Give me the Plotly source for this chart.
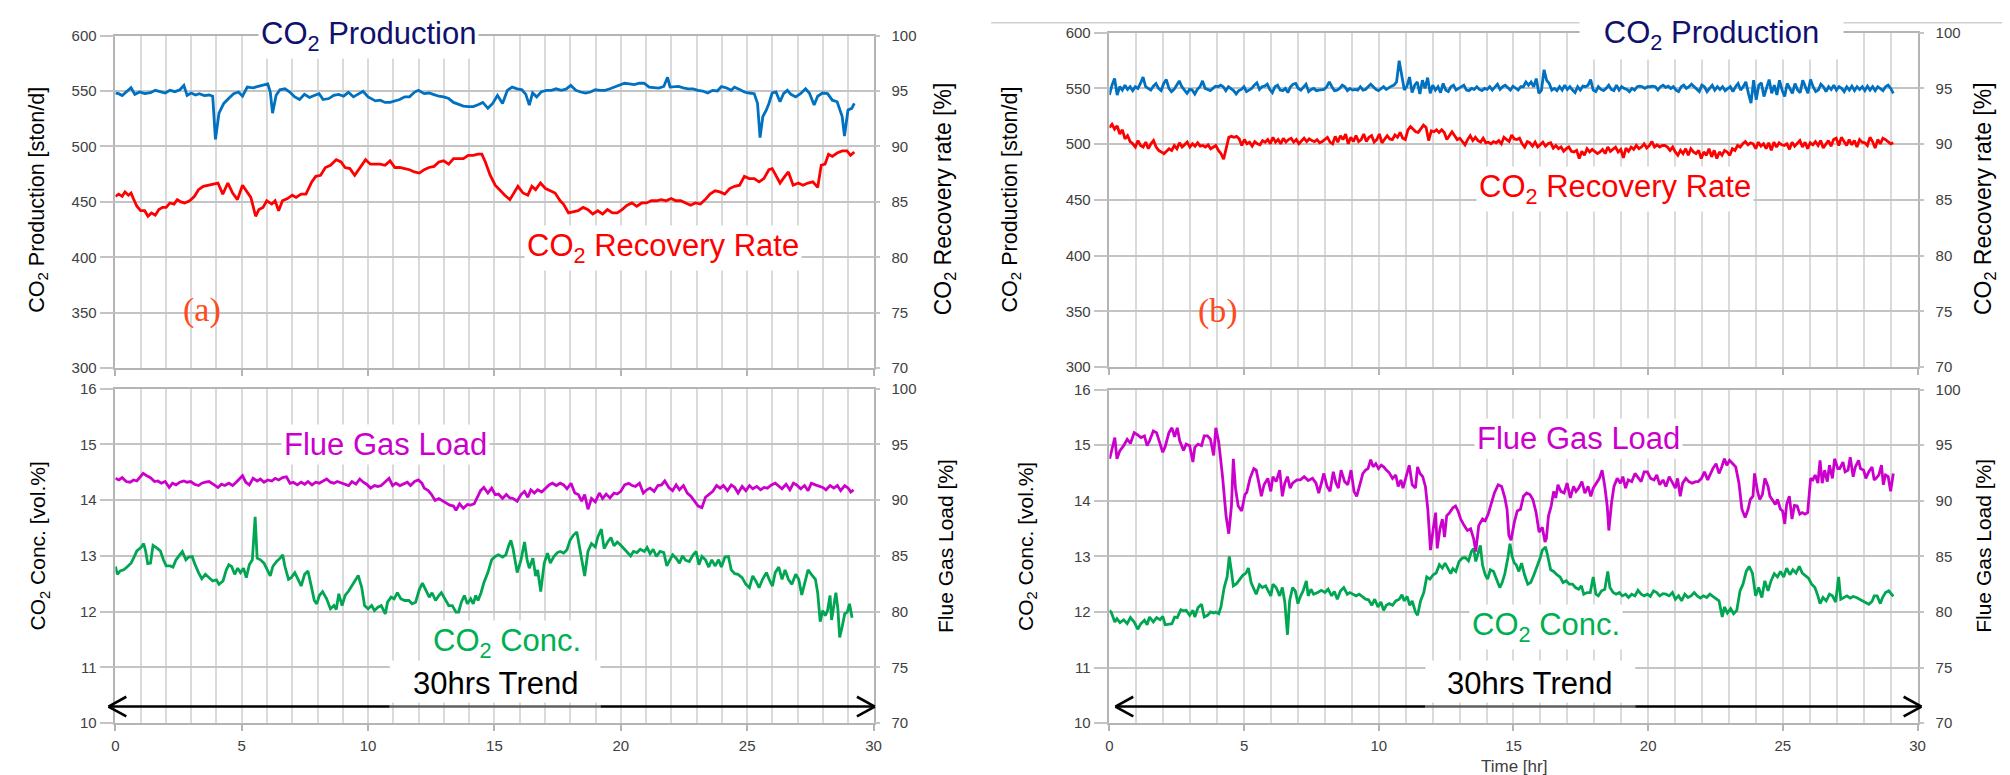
import plotly.graph_objects as go

W, H = 2010, 775

# ============================ DATA ============================
# ---- (a) top: CO2 production [ston/d] (left axis) ----
t_prod_a = [0.0,0.13,0.27,0.42,0.62,0.77,0.96,1.16,1.39,1.58,1.78,1.97,2.16,2.36,2.55,2.71,2.84,3.0,3.17,3.32,3.52,3.71,3.85,3.96,4.1,4.29,4.48,4.68,4.87,5.03,5.22,5.45,5.65,5.84,6.03,6.13,6.22,6.36,6.51,6.71,6.9,7.1,7.29,7.48,7.68,7.87,8.06,8.22,8.45,8.64,8.84,9.03,9.22,9.42,9.61,9.8,10.0,10.29,10.48,10.67,10.87,11.06,11.25,11.45,11.64,11.83,11.99,12.22,12.41,12.61,12.8,12.99,13.19,13.38,13.58,13.77,13.96,14.16,14.35,14.54,14.74,14.93,15.12,15.32,15.51,15.7,15.9,16.09,16.24,16.38,16.51,16.67,16.86,17.06,17.25,17.44,17.64,17.83,18.02,18.22,18.41,18.6,18.8,18.99,19.18,19.38,19.57,19.76,19.96,20.15,20.34,20.54,20.73,20.92,21.12,21.31,21.5,21.7,21.85,21.95,22.08,22.28,22.47,22.66,22.86,23.05,23.24,23.44,23.63,23.82,23.98,24.17,24.37,24.5,24.7,24.89,25.08,25.28,25.41,25.51,25.62,25.76,25.86,25.99,26.14,26.3,26.44,26.59,26.73,26.92,27.11,27.31,27.46,27.65,27.79,27.98,28.18,28.37,28.56,28.76,28.85,28.99,29.14,29.24]
prod_a = [548.2,547.6,545.9,548.8,552.9,547.0,549.1,547.6,548.5,550.6,549.1,548.2,550.6,549.4,551.1,555.0,546.1,548.2,546.4,547.6,545.9,546.4,545.3,506.4,530.0,538.8,543.2,547.6,549.1,545.3,553.5,552.9,554.1,555.0,556.4,549.1,530.0,546.1,551.1,552.0,549.1,544.7,542.3,547.0,544.1,545.9,547.6,542.3,543.2,546.1,547.0,545.3,548.8,544.7,547.6,549.7,544.7,541.1,541.7,539.7,539.7,540.9,542.3,544.7,544.7,548.8,550.6,547.6,548.2,546.7,545.3,544.7,543.2,539.7,537.9,536.4,535.9,535.9,537.6,539.7,534.4,538.8,546.1,538.8,550.6,553.5,552.0,551.1,547.0,537.3,548.2,544.7,549.4,550.6,550.6,552.0,550.6,551.7,555.0,550.6,549.1,548.2,549.1,551.1,550.6,550.6,552.0,553.5,555.0,557.0,556.4,555.8,557.0,557.0,553.5,552.9,552.6,554.1,562.3,553.5,553.5,554.1,552.9,552.0,552.0,550.6,550.0,548.2,550.6,550.0,554.1,552.9,550.6,553.5,551.4,549.1,548.2,547.6,538.8,507.9,527.0,532.9,538.8,548.2,549.1,540.3,547.6,550.6,547.0,544.7,547.6,552.0,548.2,537.3,545.3,548.2,547.6,541.7,540.3,527.0,509.4,532.9,534.4,538.8]

# ---- (a) top: CO2 recovery rate [%] (right axis) ----
t_rec_a = [0.0,0.13,0.27,0.38,0.52,0.62,0.71,0.85,1.0,1.16,1.29,1.43,1.58,1.72,1.87,2.01,2.16,2.32,2.45,2.59,2.74,2.94,3.13,3.29,3.48,3.67,3.9,4.06,4.25,4.45,4.64,4.83,5.03,5.22,5.36,5.55,5.68,5.84,5.99,6.19,6.32,6.46,6.61,6.81,7.0,7.15,7.35,7.54,7.77,7.93,8.12,8.31,8.51,8.74,8.93,9.09,9.28,9.47,9.67,9.9,10.09,10.29,10.48,10.67,10.87,11.06,11.25,11.45,11.64,11.83,12.03,12.22,12.41,12.61,12.8,12.99,13.19,13.38,13.58,13.77,13.96,14.16,14.35,14.5,14.64,14.83,15.03,15.22,15.41,15.61,15.76,15.93,16.13,16.32,16.48,16.63,16.82,17.02,17.21,17.4,17.6,17.73,17.93,18.12,18.31,18.51,18.7,18.89,19.09,19.28,19.47,19.67,19.86,20.05,20.25,20.44,20.63,20.83,21.02,21.21,21.41,21.6,21.79,21.99,22.18,22.37,22.57,22.76,22.95,23.15,23.34,23.53,23.73,23.92,24.11,24.31,24.5,24.7,24.89,25.08,25.28,25.47,25.66,25.86,25.99,26.14,26.3,26.49,26.63,26.82,27.02,27.21,27.4,27.6,27.79,27.93,28.08,28.22,28.37,28.56,28.76,28.95,29.09,29.24]
rec_a = [85.5,85.7,85.5,85.9,85.6,85.8,85.3,84.6,84.2,84.2,83.7,84.0,83.8,84.3,84.5,84.5,84.9,84.8,85.2,85.0,84.9,85.1,85.5,86.1,86.4,86.5,86.6,86.7,85.7,86.7,85.8,85.2,86.5,85.8,85.4,83.7,84.3,84.5,85.1,84.8,85.1,84.2,85.1,85.3,85.6,85.4,85.7,85.7,86.8,87.3,87.4,88.1,88.3,88.8,88.6,88.1,88.0,87.4,88.0,88.8,88.4,88.4,88.4,88.3,88.7,88.1,88.1,88.0,87.9,87.7,87.6,87.9,88.1,88.2,88.6,88.7,88.4,88.9,88.9,88.9,89.2,89.2,89.3,89.3,88.6,87.4,86.5,86.0,85.6,85.2,85.8,86.4,85.8,85.6,86.4,86.1,86.7,86.2,86.0,85.8,85.1,84.8,84.0,84.1,84.2,84.5,84.3,83.9,84.2,83.9,84.3,84.0,84.0,84.3,84.7,84.9,84.6,84.9,84.9,85.1,85.1,85.2,85.1,85.3,85.1,85.1,84.9,84.7,84.9,84.8,85.2,85.7,86.0,85.9,85.7,86.2,86.4,86.5,87.3,87.1,87.1,86.8,87.1,87.9,88.0,87.4,86.7,87.3,87.7,86.5,86.7,86.5,86.7,86.8,86.3,88.3,88.4,89.3,89.1,89.4,89.6,89.6,89.2,89.5]

# ---- (a) bottom: flue gas load [%] (right axis) ----
t_flue_a = [0,0.14,0.27,0.43,0.58,0.72,0.85,1.01,1.1,1.24,1.39,1.55,1.68,1.82,1.97,2.13,2.26,2.4,2.55,2.71,2.84,2.98,3.13,3.29,3.42,3.56,3.71,3.91,4.06,4.2,4.33,4.49,4.64,4.78,4.91,5.03,5.16,5.3,5.45,5.61,5.74,5.88,6.03,6.19,6.32,6.46,6.62,6.77,6.91,7.04,7.2,7.35,7.49,7.62,7.78,7.93,8.07,8.2,8.36,8.51,8.65,8.78,8.94,9.09,9.23,9.36,9.52,9.67,9.81,9.94,10.1,10.25,10.39,10.52,10.68,10.83,10.97,11.1,11.26,11.41,11.55,11.68,11.84,11.99,12.13,12.22,12.38,12.51,12.65,12.8,12.96,13.09,13.23,13.38,13.48,13.62,13.77,13.93,14.06,14.2,14.31,14.45,14.58,14.74,14.89,15.03,15.16,15.32,15.47,15.61,15.74,15.9,16.05,16.19,16.32,16.44,16.58,16.71,16.87,17.02,17.16,17.29,17.45,17.6,17.74,17.87,18.03,18.18,18.32,18.45,18.57,18.7,18.84,18.99,19.15,19.28,19.42,19.57,19.73,19.86,20.0,20.15,20.31,20.45,20.58,20.74,20.89,21.03,21.16,21.32,21.47,21.61,21.74,21.9,22.05,22.19,22.32,22.48,22.63,22.77,22.9,23.06,23.21,23.35,23.48,23.64,23.79,23.93,24.06,24.22,24.37,24.51,24.64,24.8,24.95,25.09,25.22,25.38,25.53,25.67,25.8,25.96,26.11,26.25,26.38,26.54,26.69,26.83,26.96,27.12,27.27,27.41,27.54,27.7,27.85,27.99,28.12,28.28,28.43,28.57,28.7,28.86,29.0,29.1,29.21]
flue_a = [91.96,91.81,92.02,91.67,91.61,91.81,91.72,92.1,92.4,92.19,92.02,91.67,91.72,91.52,91.67,91.14,91.52,91.37,91.61,91.72,91.61,91.67,91.43,91.31,91.52,91.61,91.67,91.37,91.14,91.43,91.31,91.52,91.31,91.61,91.9,92.19,91.61,91.37,91.96,91.72,91.9,91.61,91.81,91.72,91.96,91.81,92.02,92.1,91.52,91.61,91.37,91.61,91.43,91.67,91.37,91.61,91.52,91.72,91.9,91.61,91.52,91.67,91.52,91.37,91.31,91.67,91.43,91.9,91.61,91.43,91.08,91.31,91.23,91.31,91.61,91.96,91.31,91.52,91.31,91.43,91.61,91.31,91.67,91.81,91.52,91.08,90.85,90.5,89.97,90.15,89.91,89.77,89.56,89.47,89.09,89.68,89.27,89.62,89.56,89.68,90.2,90.85,91.14,90.64,91.08,90.5,90.55,90.15,90.5,90.2,90.15,89.91,90.5,90.79,90.26,90.93,90.64,90.93,90.73,91.08,91.37,91.52,91.31,91.52,91.37,91.02,91.52,90.64,90.5,89.91,90.5,89.18,90.15,89.85,90.64,90.15,90.55,90.2,90.64,90.55,90.79,91.37,91.52,91.31,91.23,91.52,90.64,90.93,91.08,90.79,91.31,91.37,91.72,91.14,90.85,91.37,90.93,91.31,90.64,90.35,89.91,89.47,89.33,90.26,90.5,90.79,91.31,91.08,91.31,90.85,91.37,91.14,90.64,91.23,90.85,91.31,91.02,91.23,90.93,91.14,91.08,91.37,91.52,91.23,91.02,91.43,90.93,91.52,91.37,91.02,91.31,90.85,91.52,91.37,91.23,91.14,90.93,91.31,91.08,91.31,90.85,91.31,91.08,90.73,90.93]

# ---- (a) bottom: CO2 concentration [vol.%] (left axis) ----
t_conc_a = [0,0.08,0.19,0.33,0.46,0.62,0.72,0.85,1.01,1.12,1.2,1.28,1.39,1.49,1.62,1.78,1.9,2.01,2.17,2.28,2.4,2.51,2.65,2.79,2.9,3.04,3.13,3.29,3.42,3.56,3.71,3.85,4.0,4.1,4.26,4.39,4.49,4.6,4.72,4.84,4.95,5.07,5.18,5.3,5.42,5.53,5.61,5.74,5.88,6.0,6.13,6.23,6.38,6.52,6.62,6.71,6.85,6.96,7.1,7.23,7.35,7.49,7.62,7.78,7.87,7.97,8.07,8.2,8.36,8.51,8.65,8.74,8.84,8.97,9.09,9.23,9.36,9.52,9.61,9.75,9.86,10.0,10.14,10.25,10.39,10.52,10.68,10.77,10.91,11.03,11.16,11.3,11.45,11.61,11.74,11.88,12.03,12.15,12.26,12.42,12.53,12.67,12.8,12.9,13.04,13.19,13.33,13.48,13.58,13.69,13.81,13.93,14.06,14.16,14.26,14.35,14.47,14.58,14.74,14.89,15.03,15.16,15.32,15.45,15.57,15.65,15.74,15.9,16.05,16.19,16.29,16.38,16.52,16.63,16.71,16.83,16.97,17.1,17.21,17.35,17.49,17.6,17.74,17.87,17.99,18.12,18.26,18.38,18.45,18.57,18.7,18.84,18.99,19.09,19.23,19.34,19.48,19.61,19.73,19.86,20.0,20.15,20.27,20.39,20.5,20.64,20.77,20.93,21.04,21.16,21.28,21.41,21.55,21.7,21.82,21.93,22.05,22.19,22.32,22.44,22.57,22.71,22.86,22.98,23.09,23.21,23.35,23.48,23.6,23.73,23.87,23.98,24.12,24.26,24.37,24.51,24.64,24.8,24.95,25.09,25.22,25.34,25.47,25.61,25.76,25.88,26.0,26.11,26.25,26.38,26.5,26.63,26.77,26.92,27.04,27.16,27.27,27.41,27.54,27.7,27.79,27.89,27.99,28.09,28.18,28.28,28.34,28.43,28.51,28.59,28.66,28.76,28.86,28.96,29.05,29.15]
conc_a = [12.81,12.67,12.73,12.75,12.80,12.87,12.96,13.09,13.15,13.22,13.08,12.86,12.87,13.19,13.15,13.09,12.93,12.82,12.82,12.80,12.93,12.99,13.08,12.93,12.98,12.99,12.87,12.70,12.59,12.67,12.61,12.55,12.57,12.49,12.55,12.75,12.84,12.81,12.67,12.78,12.70,12.78,12.61,12.84,12.93,13.70,12.96,12.93,12.87,12.75,12.64,12.81,12.90,12.96,13.02,12.81,12.58,12.61,12.70,12.58,12.46,12.67,12.73,12.40,12.20,12.14,12.29,12.36,12.23,12.05,12.11,12.04,12.32,12.11,12.29,12.37,12.46,12.58,12.65,12.43,12.11,12.05,12.11,12.02,12.08,12.11,11.96,12.17,12.26,12.23,12.34,12.23,12.20,12.20,12.14,12.17,12.40,12.51,12.40,12.26,12.34,12.20,12.29,12.34,12.23,12.11,12.11,11.99,11.99,12.17,12.29,12.14,12.23,12.14,12.29,12.20,12.34,12.52,12.70,12.93,12.99,13.02,12.98,13.02,13.19,13.28,13.12,12.70,12.93,13.25,12.93,12.78,12.96,12.64,12.75,12.36,12.87,13.05,12.87,12.99,13.06,13.08,13.05,13.11,13.28,13.37,13.43,13.15,12.93,12.64,13.08,13.22,13.16,13.34,13.48,13.13,13.25,13.33,13.18,13.25,13.19,13.11,13.06,13.0,13.08,13.06,13.12,13.08,13.15,13.04,13.12,12.99,13.08,13.06,12.82,12.93,13.02,12.96,12.87,13.0,12.92,12.90,13.02,13.08,12.84,12.99,12.93,12.80,12.93,12.82,12.93,12.80,12.98,12.99,12.75,12.68,12.67,12.61,12.49,12.43,12.64,12.55,12.43,12.58,12.70,12.57,12.46,12.70,12.80,12.58,12.75,12.58,12.49,12.67,12.58,12.30,12.52,12.75,12.67,12.58,12.34,11.82,12.02,11.93,12.02,12.29,11.85,12.11,12.34,12.05,11.54,11.73,11.96,11.99,12.14,11.89]

# ---- (b) top: CO2 production [ston/d], regular samples from 0 to 29.1 h ----
prod_b_end = 29.1
prod_b = [544.1,552.9,558.8,544.1,551.5,548.5,552.9,549.1,551.5,548.0,551.5,550.0,554.4,560.2,551.5,550.0,548.5,552.0,554.4,550.0,548.0,554.4,557.9,550.0,547.1,549.1,552.9,556.7,551.5,548.0,545.6,549.1,548.5,545.0,549.1,551.5,556.7,550.0,549.1,548.0,550.0,552.0,551.5,552.9,551.5,548.0,551.5,550.0,548.0,545.0,548.0,549.1,551.5,547.1,548.5,550.0,552.9,555.0,549.1,551.5,552.0,553.8,549.1,546.2,551.5,552.9,548.5,548.0,550.0,546.2,551.5,553.8,554.4,550.0,548.5,551.5,553.8,547.1,549.1,550.0,548.0,548.5,549.1,549.1,551.5,555.8,551.5,548.0,548.5,550.0,552.9,551.5,548.0,550.0,548.5,549.1,548.5,551.5,548.5,549.1,551.5,553.8,551.5,549.1,548.0,550.0,551.5,549.1,550.9,552.0,552.9,555.8,574.9,560.2,548.5,552.0,560.2,546.2,552.9,555.8,545.0,557.3,550.0,559.6,545.6,552.9,548.5,551.5,546.2,554.4,548.5,547.1,551.5,552.9,548.5,550.0,551.5,552.9,548.5,548.0,550.0,549.1,551.5,549.1,548.0,550.0,549.1,551.5,548.5,551.5,553.8,549.1,551.5,552.9,550.9,548.5,552.0,550.0,548.5,551.5,551.5,555.8,552.9,555.8,551.5,558.8,545.6,548.5,566.7,557.3,554.4,548.5,550.0,548.0,551.5,548.5,552.9,549.1,551.5,548.5,546.2,551.5,548.5,552.0,551.5,552.9,557.9,548.5,547.1,551.5,549.1,548.0,550.0,552.9,549.1,548.0,552.9,548.5,551.5,550.0,549.1,547.1,550.0,548.5,551.5,552.0,551.5,550.0,551.5,551.5,552.0,551.5,548.5,551.5,552.9,550.9,552.0,550.0,551.5,548.5,547.1,551.5,552.9,550.0,551.5,553.8,551.5,549.1,547.1,552.9,551.5,547.1,550.0,552.9,548.5,551.5,549.1,551.5,548.0,550.0,551.5,547.1,551.5,554.4,548.5,551.5,555.8,545.6,536.8,557.3,539.8,552.9,555.0,542.7,551.5,557.9,545.6,552.9,544.1,557.3,548.5,542.7,554.4,550.0,545.6,554.4,548.5,546.2,557.3,551.5,545.6,557.9,551.5,547.1,548.5,553.8,551.5,547.1,551.5,549.1,552.9,548.5,551.5,550.0,547.1,551.5,548.5,552.0,548.0,551.5,549.1,551.5,548.0,552.0,548.5,551.5,548.0,551.5,550.0,548.0,551.5,552.9,550.0,545.6]

# ---- (b) top: CO2 recovery rate [%], regular samples from 0 to 29.1 h ----
rec_b_end = 29.1
rec_b = [91.49,91.78,91.34,91.64,90.91,91.29,90.47,90.76,90.23,90.03,89.74,90.32,89.88,89.74,90.18,89.59,90.03,90.32,89.74,89.44,89.3,89.15,89.36,89.59,89.44,89.88,89.59,90.12,89.74,89.94,90.18,89.74,90.03,89.82,90.12,89.82,89.88,89.74,89.94,89.59,89.74,89.88,89.44,89.15,88.65,89.74,90.61,90.7,90.61,90.7,90.47,89.88,90.41,90.03,90.18,89.82,90.23,90.03,89.94,90.32,90.18,90.41,90.03,90.61,90.18,90.41,90.03,90.53,90.18,90.41,90.53,90.18,90.41,90.03,90.32,90.53,90.23,90.47,90.32,90.23,90.41,90.12,90.23,90.41,90.61,90.18,90.03,90.7,90.18,90.76,90.41,90.91,90.03,90.61,90.23,90.76,90.23,90.41,90.91,90.23,90.61,90.76,90.18,90.41,90.91,90.12,90.41,90.76,90.47,90.41,90.82,90.61,91.05,90.53,90.41,91.29,91.58,91.34,91.11,91.05,91.4,91.7,91.49,90.32,91.2,91.11,91.29,91.05,91.29,91.05,90.41,90.82,91.11,90.76,90.41,90.53,90.23,89.94,90.41,90.76,90.32,90.61,90.32,90.18,90.53,90.12,90.18,90.03,90.23,90.12,90.32,90.03,90.61,90.41,90.23,90.82,90.47,90.41,90.53,90.03,89.74,90.23,90.12,89.82,90.18,89.74,89.94,90.18,89.82,90.03,90.12,89.65,89.88,89.59,89.74,89.36,89.59,89.74,89.36,89.3,89.44,88.71,89.36,89.0,89.59,89.3,89.53,89.3,89.15,89.3,89.53,89.15,89.74,89.36,89.59,89.74,89.3,89.53,88.77,89.65,89.36,89.74,89.53,89.88,89.59,89.74,90.03,89.65,89.88,90.23,89.74,89.94,89.74,89.88,89.88,89.74,89.44,89.74,89.3,89.0,89.44,89.15,89.59,89.0,89.59,89.3,89.15,89.44,88.71,89.3,89.0,89.59,88.86,89.44,88.71,89.3,89.0,89.44,89.3,89.0,89.59,89.44,89.88,89.74,90.03,90.23,89.94,90.12,90.03,89.59,90.18,89.82,90.03,89.59,90.12,89.44,90.18,89.74,90.12,89.94,89.88,90.03,89.53,90.18,89.82,90.03,90.32,89.74,90.18,89.59,90.12,89.94,90.23,89.88,90.32,89.65,90.03,90.32,89.82,90.41,90.53,89.88,90.61,90.23,89.88,90.41,89.94,90.32,89.74,90.41,90.18,90.12,89.88,90.61,90.23,89.65,90.41,90.03,90.53,90.41,90.18,90.03,90.12]

# ---- (b) bottom: flue gas load [%] (right axis) ----
t_flue_b = [0.01,0.08,0.2,0.28,0.39,0.53,0.66,0.78,0.92,1.05,1.17,1.3,1.4,1.49,1.63,1.75,1.88,1.98,2.07,2.21,2.32,2.42,2.52,2.61,2.75,2.85,2.98,3.1,3.17,3.29,3.42,3.52,3.64,3.75,3.87,3.95,4.06,4.2,4.33,4.43,4.53,4.6,4.68,4.78,4.91,5.03,5.1,5.22,5.36,5.45,5.55,5.64,5.74,5.88,5.99,6.07,6.19,6.32,6.42,6.51,6.61,6.71,6.8,6.96,7.09,7.23,7.38,7.54,7.67,7.77,7.87,7.96,8.08,8.19,8.31,8.41,8.5,8.6,8.73,8.85,8.97,9.08,9.18,9.27,9.41,9.51,9.6,9.7,9.79,9.89,9.99,10.09,10.18,10.28,10.39,10.51,10.63,10.72,10.82,10.9,11.01,11.13,11.24,11.36,11.44,11.53,11.63,11.73,11.82,11.92,12.02,12.11,12.17,12.27,12.36,12.44,12.52,12.63,12.75,12.85,12.94,13.04,13.17,13.29,13.41,13.52,13.6,13.71,13.85,13.95,14.06,14.18,14.29,14.43,14.56,14.68,14.76,14.83,14.91,15.03,15.14,15.26,15.37,15.49,15.61,15.72,15.84,15.95,16.07,16.17,16.22,16.3,16.4,16.49,16.57,16.65,16.76,16.88,16.99,17.11,17.23,17.32,17.42,17.54,17.65,17.77,17.87,17.96,18.08,18.19,18.29,18.39,18.48,18.54,18.64,18.73,18.85,18.97,19.06,19.16,19.26,19.39,19.51,19.64,19.74,19.85,19.97,20.09,20.22,20.32,20.43,20.55,20.66,20.78,20.9,21.01,21.09,21.19,21.28,21.4,21.51,21.63,21.77,21.86,21.98,22.09,22.21,22.29,22.4,22.52,22.63,22.73,22.83,22.92,23.02,23.14,23.25,23.37,23.48,23.6,23.71,23.79,23.89,23.95,24.06,24.14,24.24,24.33,24.45,24.52,24.6,24.72,24.8,24.91,24.99,25.07,25.14,25.24,25.34,25.43,25.53,25.63,25.72,25.82,25.92,26.03,26.11,26.2,26.3,26.38,26.46,26.55,26.65,26.73,26.84,26.92,27.04,27.11,27.23,27.31,27.42,27.5,27.61,27.69,27.81,27.88,28.0,28.08,28.19,28.31,28.39,28.46,28.56,28.66,28.73,28.81,28.91,29.0,29.1]
flue_b = [93.78,94.52,95.69,93.78,94.52,94.96,95.54,95.16,96.13,95.92,95.69,95.84,94.96,95.4,96.28,96.13,95.16,94.37,94.87,96.13,96.57,95.75,96.57,95.4,94.52,95.1,94.96,93.49,94.81,95.1,94.96,95.84,95.84,95.54,94.08,96.57,95.25,92.17,88.65,87.04,89.53,93.78,91.14,89.53,89.09,90.56,90.76,92.02,92.9,92.76,91.59,90.41,91.44,92.02,90.85,92.17,91.73,92.76,90.41,91.59,92.17,91.14,91.59,91.88,91.88,92.17,91.82,92.02,91.59,90.7,91.59,92.46,91.29,90.85,92.61,91.59,91.14,92.76,91.73,91.44,92.76,90.85,90.41,91.29,92.46,92.76,92.9,93.7,93.05,93.34,92.9,93.2,93.05,92.76,92.52,92.02,92.32,91.29,91.88,91.14,92.17,93.2,91.44,91.14,93.05,92.46,92.17,91.29,89.24,85.57,87.48,88.94,85.72,87.48,88.36,86.74,88.65,88.94,89.38,89.53,89.09,88.36,87.77,87.33,87.48,86.6,85.43,87.77,88.36,88.21,88.8,89.82,90.7,91.44,91.29,90.26,89.24,86.89,86.45,88.06,89.09,89.24,90.41,90.7,90.56,90.12,88.94,87.18,87.62,86.3,86.6,88.65,89.53,90.85,90.26,91.44,90.85,90.7,91.59,90.26,91.29,90.85,91.14,91.73,90.7,91.29,90.41,91.14,91.59,92.02,92.76,91.29,89.53,87.33,89.82,91.29,92.02,91.59,92.17,91.14,91.88,91.73,92.46,92.02,91.73,92.61,92.61,92.02,91.88,92.32,91.44,91.88,91.29,92.17,91.59,91.14,92.02,90.41,91.59,92.02,91.73,91.59,91.73,91.73,92.02,92.61,91.88,92.32,92.9,93.34,92.46,93.05,93.78,93.2,93.64,93.34,93.05,91.59,89.24,88.5,89.24,90.12,90.41,92.46,90.85,90.12,90.56,92.02,91.29,90.41,90.12,89.68,90.12,89.24,89.09,87.92,89.68,90.41,88.36,89.59,89.53,88.8,88.94,88.8,88.94,92.02,91.88,92.32,91.59,93.64,91.59,92.76,91.73,93.2,92.02,93.78,92.9,92.9,93.49,92.61,92.76,93.93,92.17,93.05,93.64,92.9,92.76,92.02,92.61,93.05,91.88,92.02,92.32,93.2,91.44,92.32,92.17,90.85,92.46]

# ---- (b) bottom: CO2 concentration [vol.%] (left axis) ----
t_conc_b = [0.01,0.08,0.2,0.28,0.39,0.53,0.66,0.78,0.92,1.05,1.17,1.3,1.4,1.49,1.63,1.75,1.88,1.98,2.07,2.21,2.32,2.42,2.52,2.65,2.75,2.85,2.98,3.1,3.17,3.29,3.42,3.52,3.64,3.75,3.87,3.95,4.06,4.14,4.26,4.37,4.45,4.53,4.6,4.72,4.83,4.95,5.07,5.16,5.26,5.36,5.45,5.57,5.68,5.8,5.88,5.99,6.07,6.19,6.32,6.42,6.51,6.61,6.69,6.8,6.9,7.0,7.09,7.19,7.31,7.38,7.48,7.58,7.73,7.87,8.0,8.12,8.25,8.35,8.46,8.58,8.7,8.83,8.93,9.04,9.16,9.27,9.39,9.51,9.62,9.74,9.85,9.97,10.08,10.18,10.28,10.39,10.51,10.63,10.76,10.86,10.94,11.05,11.15,11.24,11.36,11.44,11.55,11.67,11.78,11.9,12.02,12.13,12.25,12.36,12.46,12.56,12.67,12.75,12.86,12.98,13.1,13.21,13.33,13.44,13.52,13.6,13.68,13.77,13.85,13.95,14.04,14.14,14.26,14.37,14.49,14.58,14.68,14.79,14.87,14.95,15.03,15.1,15.2,15.3,15.41,15.53,15.64,15.76,15.88,15.99,16.07,16.19,16.26,16.38,16.49,16.61,16.73,16.84,16.96,17.07,17.19,17.3,17.42,17.52,17.61,17.73,17.85,17.96,18.06,18.15,18.27,18.39,18.5,18.58,18.7,18.81,18.93,19.04,19.16,19.27,19.39,19.51,19.62,19.74,19.85,19.97,20.08,20.2,20.32,20.43,20.55,20.66,20.78,20.9,21.01,21.13,21.24,21.36,21.48,21.59,21.71,21.82,21.94,22.05,22.17,22.29,22.4,22.52,22.63,22.75,22.83,22.94,23.06,23.17,23.29,23.41,23.52,23.64,23.75,23.87,23.99,24.1,24.22,24.33,24.45,24.56,24.68,24.8,24.91,25.03,25.14,25.26,25.37,25.49,25.61,25.72,25.84,25.95,26.07,26.19,26.3,26.38,26.49,26.61,26.73,26.84,26.96,27.07,27.15,27.27,27.38,27.5,27.61,27.73,27.85,27.96,28.08,28.19,28.31,28.39,28.5,28.62,28.7,28.81,28.93,29.04,29.1]
conc_b = [12.03,11.98,11.82,11.88,11.81,11.86,11.79,11.9,11.82,11.69,11.79,11.85,11.77,11.91,11.82,11.9,11.86,11.92,11.77,11.78,11.79,11.91,11.9,12.04,12.02,12.03,11.94,12.03,11.91,12.08,12.14,11.91,11.94,12.0,11.98,12.0,11.97,12.09,12.44,12.63,13.0,12.73,12.47,12.51,12.59,12.66,12.7,12.79,12.53,12.41,12.32,12.49,12.44,12.47,12.38,12.29,12.5,12.44,12.29,12.44,12.18,11.59,12.2,12.44,12.38,12.15,12.28,12.38,12.56,12.29,12.41,12.32,12.35,12.39,12.35,12.41,12.29,12.37,12.23,12.38,12.44,12.32,12.35,12.32,12.29,12.32,12.28,12.23,12.22,12.12,12.23,12.09,12.18,12.03,12.12,12.15,12.12,12.2,12.23,12.31,12.2,12.28,12.12,12.2,12.0,11.94,12.2,12.35,12.63,12.59,12.67,12.7,12.85,12.79,12.88,12.79,12.69,12.78,12.73,12.91,12.97,12.98,12.92,13.09,13.14,12.91,13.03,13.2,12.85,12.67,12.59,12.76,12.73,12.59,12.44,12.53,12.69,12.97,13.23,13.0,12.88,12.85,12.73,12.88,12.67,12.5,12.53,12.67,12.82,12.97,13.11,13.17,13.03,12.76,12.73,12.67,12.63,12.53,12.56,12.5,12.5,12.44,12.41,12.47,12.32,12.35,12.35,12.63,12.32,12.29,12.38,12.41,12.73,12.44,12.35,12.32,12.35,12.29,12.32,12.26,12.32,12.29,12.39,12.32,12.29,12.32,12.28,12.38,12.35,12.29,12.33,12.32,12.29,12.35,12.23,12.29,12.2,12.32,12.26,12.29,12.35,12.29,12.25,12.29,12.26,12.32,12.28,12.23,12.2,11.91,12.09,11.98,12.06,11.97,12.03,12.38,12.5,12.73,12.82,12.7,12.29,12.44,12.26,12.56,12.38,12.56,12.69,12.63,12.73,12.63,12.79,12.67,12.76,12.7,12.82,12.7,12.65,12.61,12.5,12.44,12.29,12.15,12.26,12.2,12.32,12.29,12.18,12.63,12.23,12.26,12.29,12.25,12.28,12.26,12.23,12.2,12.16,12.14,12.19,12.29,12.29,12.15,12.26,12.35,12.38,12.32,12.28]

# ============================ STYLE ============================
BLUE, RED, MAGENTA, GREEN = "#0070c0", "#ff0000", "#cc00cc", "#00a651"
GRIDH, GRIDV, AXC = "#c4c4c4", "#dadada", "#b4b4b4"
SANS, SERIF = "Liberation Sans", "Liberation Serif"
TICKF = dict(family=SANS, size=15, color="#404040")


def fx(px):
    return px / W


def fy(py):
    return 1 - py / H


def xaxis(dom, anchor, labels):
    return dict(domain=dom, anchor=anchor, range=[0, 30], tick0=0, dtick=5,
                showgrid=True, gridcolor=GRIDV, gridwidth=1.5,
                minor=dict(tick0=0, dtick=1, showgrid=True, gridcolor=GRIDV, gridwidth=1.5),
                ticks="outside", ticklen=6, tickwidth=1.5, tickcolor=AXC,
                showline=True, linecolor=AXC, linewidth=1.5, mirror=True,
                zeroline=False, showticklabels=labels, tickfont=TICKF, ticklabelstandoff=2)


def yleft(dom, anchor, rng, dt):
    return dict(domain=dom, anchor=anchor, range=rng, tick0=rng[0], dtick=dt,
                showgrid=True, gridcolor=GRIDH, gridwidth=2,
                ticks="outside", ticklen=14, tickwidth=1.5, tickcolor=GRIDH,
                showline=True, linecolor=AXC, linewidth=1.5, mirror=True,
                zeroline=False, tickfont=TICKF)


def yright(over, anchor):
    return dict(overlaying=over, anchor=anchor, side="right", range=[70, 100], tick0=70, dtick=5,
                showgrid=False, ticks="outside", ticklen=5, tickwidth=1.5, tickcolor=GRIDH,
                showline=False, zeroline=False, tickfont=TICKF, ticklabelstandoff=9)


XA = [fx(104), fx(866.7)]
XB = [fx(1104), fx(1917)]

fig = go.Figure()


def line(t, v, color, xa, ya):
    n = min(len(t), len(v))
    fig.add_trace(go.Scatter(x=t[:n], y=v[:n], mode="lines", xaxis=xa, yaxis=ya,
                             line=dict(color=color, width=2.8), hoverinfo="skip"))


def regular(end, n):
    return [end * i / (n - 1) for i in range(n)]


line(t_prod_a, prod_a, BLUE, "x", "y")
line(t_rec_a, rec_a, RED, "x", "y2")
line(t_conc_a, conc_a, GREEN, "x2", "y3")
line(t_flue_a, flue_a, MAGENTA, "x2", "y4")
line(regular(prod_b_end, len(prod_b)), prod_b, BLUE, "x3", "y5")
line(regular(rec_b_end, len(rec_b)), rec_b, RED, "x3", "y6")
line(t_conc_b, conc_b, GREEN, "x4", "y7")
line(t_flue_b, flue_b, MAGENTA, "x4", "y8")

anns = []


def ann(text, x, y, size, color, angle=0, family=SANS, bg=None, w=None, h=None, pad=2):
    d = dict(text=text, x=fx(x), y=fy(y), xref="paper", yref="paper",
             xanchor="center", yanchor="middle", showarrow=False, textangle=angle,
             font=dict(family=family, size=size, color=color), borderpad=pad)
    if bg:
        d["bgcolor"] = bg
    if w:
        d["width"] = w
    if h:
        d["height"] = h
    anns.append(d)


CO2 = "CO<sub>2</sub>"
# axis titles
for (x, y) in [(27, 187), (1005, 186.5)]:
    ann(CO2 + " Production [ston/d]", x, y, 21.5, "black", -90)
for (x, y) in [(939, 186), (1985, 186)]:
    ann(CO2 + " Recovery rate [%]", x, y, 23, "black", -90)
for (x, y) in [(27.5, 541), (1021, 541)]:
    ann(CO2 + " Conc. [vol.%]", x, y, 21, "black", -90)
for (x, y) in [(939, 540.5), (1983, 540.5)]:
    ann("Flue Gas Load [%]", x, y, 21, "black", -90)
ann("Time [hr]", 1511, 766, 17, "#404040")

NAVY, LBLRED, LBLMAG, LBLGRN = "#10106e", "#ff0000", "#cc00cc", "#00b050"
# panel (a) labels
ann(CO2 + " Production", 359, 19, 31, NAVY, bg="white")
ann(CO2 + " Recovery Rate", 655, 236, 31, LBLRED, bg="white")
ann("(a)", 191, 300, 34, "#ff4a1c", family=SERIF)
ann("Flue Gas Load", 376, 437, 31, LBLMAG, bg="white")
ann(CO2 + " Conc.", 498, 640, 31, LBLGRN, bg="white")
ann("30hrs Trend", 486, 681, 31, "black")
# panel (b) labels
ann(CO2 + " Production", 1710, 18, 31, NAVY, bg="white", w=263, h=48, pad=0)
ann(CO2 + " Recovery Rate", 1613, 176, 31, LBLRED, bg="white")
ann("(b)", 1213, 301, 34, "#ff4a1c", family=SERIF)
ann("Flue Gas Load", 1576, 431, 31, LBLMAG, bg="white")
ann(CO2 + " Conc.", 1543, 624, 31, LBLGRN, bg="white")
ann("30hrs Trend", 1527, 681, 31, "black")

shapes = []


def seg(x0, y0, x1, y1, color="black", width=2.6, layer="above"):
    shapes.append(dict(type="line", xref="paper", yref="paper", x0=fx(x0), y0=fy(y0),
                       x1=fx(x1), y1=fy(y1), line=dict(color=color, width=width), layer=layer))


def double_arrow(xl, xr, y, box_l, box_r):
    # white text box behind "30hrs Trend" (hides grid lines), ending just above the arrow
    shapes.append(dict(type="rect", xref="paper", yref="paper", x0=fx(box_l), x1=fx(box_r),
                       y0=fy(701), y1=fy(658), fillcolor="white", line=dict(width=0), layer="above"))
    seg(xl + 1, y, box_l, y)
    seg(box_l, y, box_r, y, color="#5f5f5f")
    seg(box_r, y, xr - 1, y)
    seg(xl, y, xl + 18, y - 10)
    seg(xl, y, xl + 18, y + 10)
    seg(xr, y, xr - 18, y - 10)
    seg(xr, y, xr - 18, y + 10)


double_arrow(97, 868, 705, 380, 592)
double_arrow(1110, 1921, 705, 1422, 1633)
# thin frame line at the top of panel (b)
seg(985, 6, 2010, 6, color="#d0d0d0", width=1.5, layer="below")

fig.update_layout(
    width=W, height=H, margin=dict(l=0, r=0, t=0, b=0),
    paper_bgcolor="white", plot_bgcolor="white", showlegend=False,
    xaxis=xaxis(XA, "y", False),
    xaxis2=xaxis(XA, "y3", True),
    xaxis3=xaxis(XB, "y5", False),
    xaxis4=xaxis(XB, "y7", True),
    yaxis=yleft([fy(359), fy(19)], "x", [300, 600], 50),
    yaxis2=yright("y", "x"),
    yaxis3=yleft([fy(722), fy(380)], "x2", [10, 16], 1),
    yaxis4=yright("y3", "x2"),
    yaxis5=yleft([fy(358), fy(16)], "x3", [300, 600], 50),
    yaxis6=yright("y5", "x3"),
    yaxis7=yleft([fy(722), fy(381)], "x4", [10, 16], 1),
    yaxis8=yright("y7", "x4"),
    annotations=anns, shapes=shapes,
)

fig.write_html("out.html")
